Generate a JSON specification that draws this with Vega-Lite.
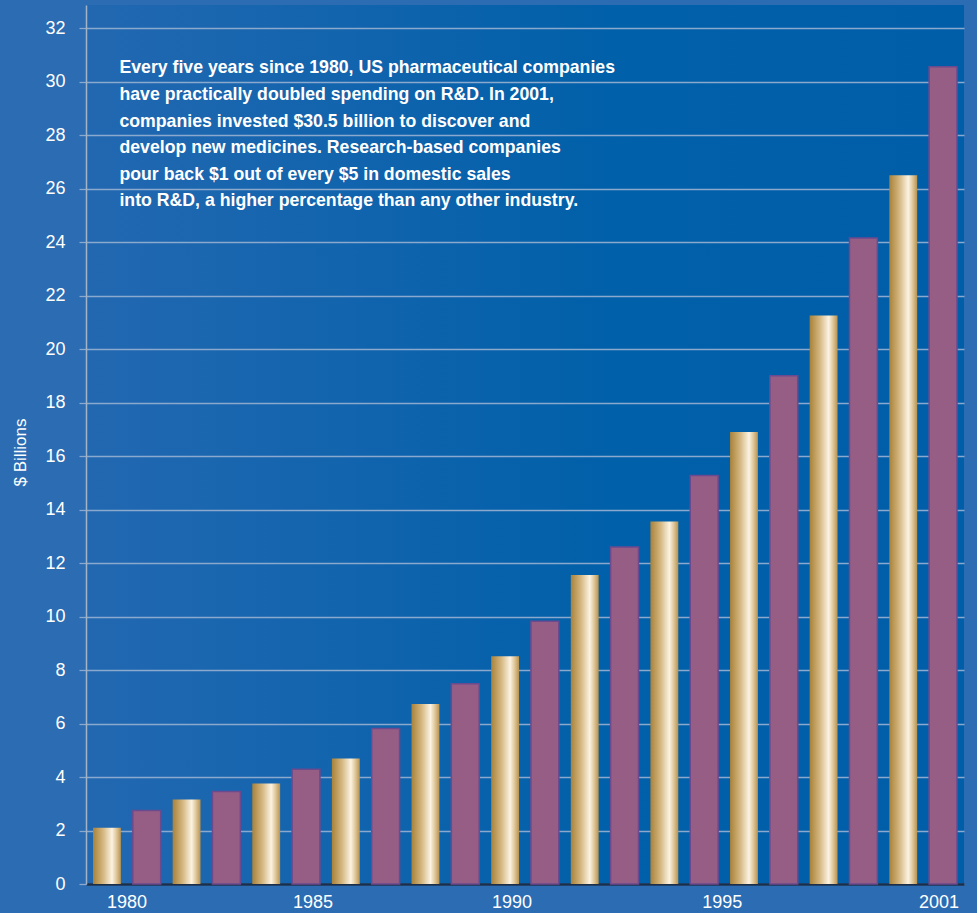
{
  "$schema": "https://vega.github.io/schema/vega-lite/v6.json",
  "width": 878,
  "height": 879,
  "autosize": "none",
  "padding": {"left": 86, "top": 5, "right": 13, "bottom": 29},
  "background": "#2b6cb3",
  "config": {
    "view": {
      "stroke": null,
      "fill": {
        "gradient": "linear", "x1": 0, "x2": 1, "y1": 0, "y2": 0,
        "stops": [
          {"offset": 0, "color": "#2268b1"},
          {"offset": 0.6, "color": "#0060a9"},
          {"offset": 1, "color": "#005ea8"}
        ]
      }
    },
    "font": "Liberation Sans"
  },
  "datasets": {
    "rd": [
      {"year": 1980, "rd": 2.1},
      {"year": 1981, "rd": 2.75},
      {"year": 1982, "rd": 3.16},
      {"year": 1983, "rd": 3.46},
      {"year": 1984, "rd": 3.76},
      {"year": 1985, "rd": 4.29},
      {"year": 1986, "rd": 4.69},
      {"year": 1987, "rd": 5.81},
      {"year": 1988, "rd": 6.73},
      {"year": 1989, "rd": 7.49},
      {"year": 1990, "rd": 8.51},
      {"year": 1991, "rd": 9.82},
      {"year": 1992, "rd": 11.55},
      {"year": 1993, "rd": 12.6},
      {"year": 1994, "rd": 13.55},
      {"year": 1995, "rd": 15.27},
      {"year": 1996, "rd": 16.9},
      {"year": 1997, "rd": 19.0},
      {"year": 1998, "rd": 21.25},
      {"year": 1999, "rd": 24.15},
      {"year": 2000, "rd": 26.5},
      {"year": 2001, "rd": 30.55}
    ],
    "note": [
      {"note": "Every five years since 1980, US pharmaceutical companies\nhave practically doubled spending on R&D. In 2001,\ncompanies invested $30.5 billion to discover and\ndevelop new medicines. Research-based companies\npour back $1 out of every $5 in domestic sales\ninto R&D, a higher percentage than any other industry."}
    ]
  },
  "layer": [
    {
      "data": {"name": "rd"},
      "transform": [{"filter": "datum.year % 2 == 0"}],
      "mark": {
        "type": "bar",
        "color": {
          "gradient": "linear", "x1": 0, "x2": 1, "y1": 0, "y2": 0,
          "stops": [
            {"offset": 0, "color": "#a8823a"},
            {"offset": 0.35, "color": "#d3b57e"},
            {"offset": 0.68, "color": "#fcf3e2"},
            {"offset": 0.85, "color": "#dcc394"},
            {"offset": 1, "color": "#b99350"}
          ]
        }
      },
      "encoding": {
        "x": {
          "field": "year",
          "type": "ordinal",
          "scale": {"domain": [1980, 1981, 1982, 1983, 1984, 1985, 1986, 1987, 1988, 1989, 1990, 1991, 1992, 1993, 1994, 1995, 1996, 1997, 1998, 1999, 2000, 2001], "paddingInner": 0.3, "paddingOuter": 0.176},
          "axis": {
            "title": null,
            "values": [1980, 1985, 1990, 1995, 2001],
            "labelAngle": 0,
            "labelColor": "#ffffff",
            "labelFontSize": 18,
            "labelPadding": 9,
            "labelOffset": {
              "condition": [
                {"test": "datum.value == 1980", "value": 20},
                {"test": "datum.value == 1995", "value": 18},
                {"test": "datum.value == 2001", "value": -4}
              ],
              "value": 7
            },
            "ticks": false,
            "grid": false,
            "domainColor": "#1a2f4b",
            "domainWidth": 2.5
          }
        },
        "y": {
          "field": "rd",
          "type": "quantitative",
          "scale": {"domain": [0, 32.86], "nice": false},
          "axis": {
            "title": "$ Billions",
            "titleColor": "#ffffff",
            "titleFontSize": 17,
            "titleFontWeight": "normal",
            "titleX": -57,
            "titleY": 447,
            "values": [0, 2, 4, 6, 8, 10, 12, 14, 16, 18, 20, 22, 24, 26, 28, 30, 32],
            "labelColor": "#ffffff",
            "labelFontSize": 18,
            "labelPadding": 14,
            "tickSize": 7,
            "tickColor": "#8aa9cd",
            "tickWidth": 1.3,
            "grid": true,
            "gridColor": "#8aa9cd",
            "gridWidth": 1.3,
            "domainColor": "#a3b4c8",
            "domainWidth": 1.5
          }
        }
      }
    },
    {
      "data": {"name": "rd"},
      "transform": [{"filter": "datum.year % 2 == 1"}],
      "mark": {"type": "bar", "fill": "#965e84", "stroke": "#6c4a8e", "strokeWidth": 1.5},
      "encoding": {
        "x": {"field": "year", "type": "ordinal"},
        "y": {"field": "rd", "type": "quantitative"}
      }
    },
    {
      "data": {"name": "note"},
      "mark": {
        "type": "text",
        "align": "left",
        "baseline": "alphabetic",
        "lineBreak": "\n",
        "lineHeight": 26.6,
        "dx": 12.5,
        "color": "#ffffff",
        "fontWeight": "bold",
        "fontSize": 17.7
      },
      "encoding": {
        "x": {"datum": 1980, "type": "ordinal"},
        "y": {"datum": 30.3, "type": "quantitative"},
        "text": {"field": "note"}
      }
    }
  ]
}
